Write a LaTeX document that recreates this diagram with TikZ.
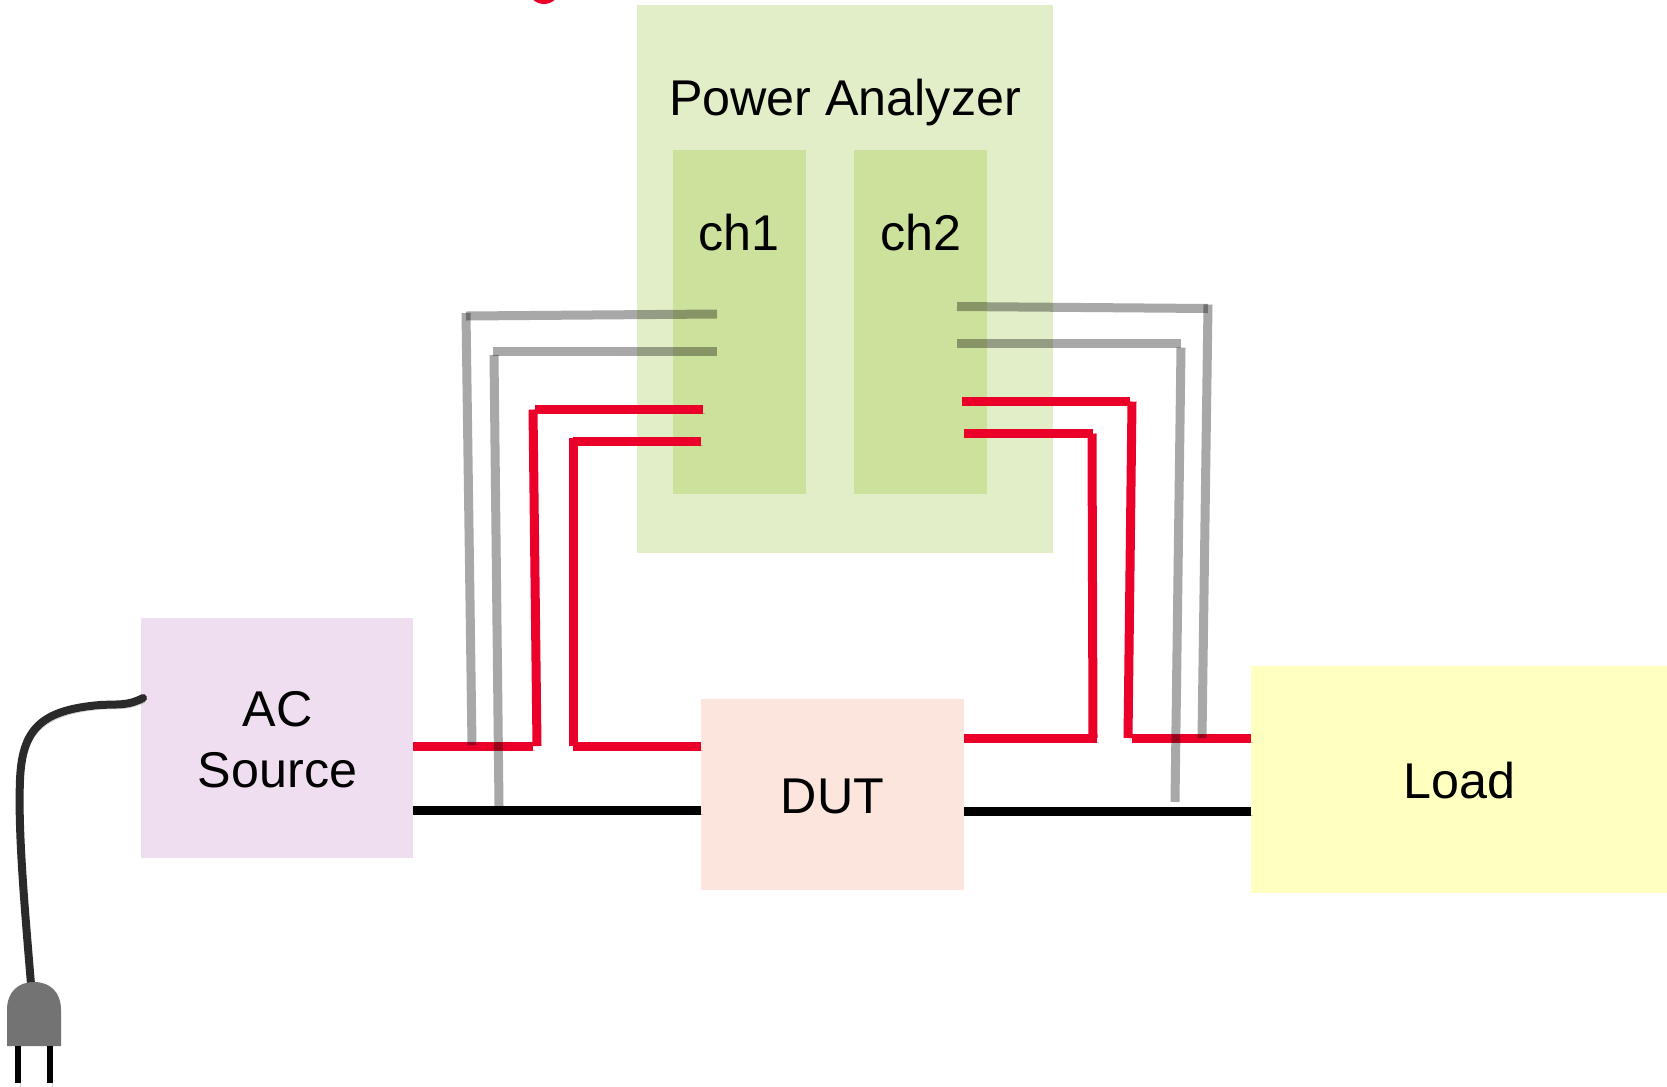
\documentclass[tikz,border=0pt]{standalone}
\usepackage{fontspec}
\setmainfont{Liberation Sans}
\usetikzlibrary{calc}

\def\pxu{0.02cm}
\definecolor{analyzerfill}{HTML}{E1EEC8}
\definecolor{chfill}{HTML}{CCE29C}
\definecolor{acfill}{HTML}{EFDDF0}
\definecolor{dutfill}{HTML}{FBE5DC}
\definecolor{loadfill}{HTML}{FFFFBF}
\definecolor{wirered}{HTML}{EA0029}
\definecolor{cablegray}{HTML}{2A2A2A}
\definecolor{pluggray}{HTML}{737373}

\tikzset{
  boxnode/.style={inner sep=0pt, outer sep=0pt},
  labelnode/.style={inner sep=0pt, align=center, font=\fontsize{28.6}{35}\selectfont},
  softshadow/.style={preaction={draw=black, opacity=.18, transform canvas={shift={(1.2pt,-2.4pt)}}}},
  wirebase/.style={line width=9*\pxu},
  redwire/.style={wirebase, softshadow, draw=wirered},
  blackwire/.style={wirebase, softshadow, draw=black},
  graywire/.style={wirebase, draw=black, draw opacity=.34}
}

\begin{document}
\begin{tikzpicture}[x=0.02cm, y=-0.02cm]
  \useasboundingbox (0,0) rectangle (1667,1086);
  \clip (0,0) rectangle (1667,1086);

  \fill[wirered] (544,-12) circle (16);

  \node[boxnode, fill=analyzerfill, minimum width=416*\pxu, minimum height=548*\pxu] (analyzer) at (845,279) {};
  \node[boxnode, fill=chfill, minimum width=133*\pxu, minimum height=344*\pxu] (ch1) at (739.5,321.5) {};
  \node[boxnode, fill=chfill, minimum width=133*\pxu, minimum height=344*\pxu] (ch2) at (920.5,321.5) {};
  \node[boxnode, fill=acfill, minimum width=272*\pxu, minimum height=240*\pxu] (ac) at (277,738) {};
  \node[boxnode, fill=dutfill, minimum width=263*\pxu, minimum height=191*\pxu] (dut) at (832.5,794.5) {};
  \node[boxnode, fill=loadfill, minimum width=416*\pxu, minimum height=227*\pxu] (load) at (1459,779) {};

  \node[labelnode] (analyzerlabel) at (845,103) {Power Analyzer};
  \node[labelnode] (ch1label) at (738.5,232.5) {ch1};
  \node[labelnode] (ch2label) at (921,232.5) {ch2};
  \node[labelnode] (aclabel) at (277.5,739.5) {AC\\Source};
  \node[labelnode] (dutlabel) at (832.5,796) {DUT};
  \node[labelnode] (loadlabel) at (1459.5,780.5) {Load};

  % corners of the leads
  \coordinate (gl1a) at (717,314);
  \coordinate (gl1b) at (466,316);
  \coordinate (gl1c) at (466,313);
  \coordinate (gl1d) at (472,745);
  \coordinate (gl2a) at (717,351);
  \coordinate (gl2b) at (493,351);
  \coordinate (gl2c) at (494,355);
  \coordinate (gl2d) at (499,806);
  \coordinate (rl1a) at (703,409.5);
  \coordinate (rl1b) at (535,409.5);
  \coordinate (rl1c) at (533,409.5);
  \coordinate (rl1d) at (537,746);
  \coordinate (rl1e) at (533,746);
  \coordinate (rl2a) at (701,441.5);
  \coordinate (rl2b) at (573,441.5);
  \coordinate (rl2c) at (573,437.5);
  \coordinate (rl2d) at (573,746);
  \coordinate (gr1a) at (957,306.5);
  \coordinate (gr1b) at (1208,308.5);
  \coordinate (gr1c) at (1208,304.5);
  \coordinate (gr1d) at (1202,738);
  \coordinate (gr2a) at (957,343.5);
  \coordinate (gr2b) at (1181,343.5);
  \coordinate (gr2c) at (1181,347.5);
  \coordinate (gr2d) at (1175,802);
  \coordinate (rr1a) at (962,401.5);
  \coordinate (rr1b) at (1130,401.5);
  \coordinate (rr1c) at (1132,401.5);
  \coordinate (rr1d) at (1128,738);
  \coordinate (rr1e) at (1132,738);
  \coordinate (rr2a) at (964,433.5);
  \coordinate (rr2b) at (1093,433.5);
  \coordinate (rr2c) at (1092,433.5);
  \coordinate (rr2d) at (1093,738);

  \draw[blackwire] (ac.east |- 0,810) -- (dut.west |- 0,810);
  \draw[blackwire] (dut.east |- 0,811) -- (load.west |- 0,811);

  \draw[redwire] (ac.east |- rl1e) -- (rl1e);
  \draw[redwire] (rl1d) -- (rl1c);
  \draw[redwire] (rl1b) -- (rl1a);
  \draw[redwire] (rl2a) -- (rl2b);
  \draw[redwire] (rl2c) -- (rl2d);
  \draw[redwire] (rl2d) -- (dut.west |- rl2d);
  \draw[redwire] (rr1a) -- (rr1b);
  \draw[redwire] (rr1c) -- (rr1d);
  \draw[redwire] (rr1e) -- (load.west |- rr1e);
  \draw[redwire] (rr2a) -- (rr2b);
  \draw[redwire] (rr2c) -- (rr2d);
  \draw[redwire] (dut.east |- rr2d) -- ($(rr2d)+(4,0)$);

  \draw[graywire] (gl1a) -- (gl1b);
  \draw[graywire] (gl1c) -- (gl1d);
  \draw[graywire] (gl2a) -- (gl2b);
  \draw[graywire] (gl2c) -- (gl2d);
  \draw[graywire] (gr1a) -- (gr1b);
  \draw[graywire] (gr1c) -- (gr1d);
  \draw[graywire] (gr2a) -- (gr2b);
  \draw[graywire] (gr2c) -- (gr2d);

  % plug and its cable
  \coordinate (plugtop) at (31,984);
  \coordinate (cableend) at (143,698);
  \draw[line width=8*\pxu, draw=cablegray, line cap=round, softshadow] (plugtop) .. controls (24,900) and (18,830) .. (20,780) .. controls (22,730) and (40,710) .. (100,705) .. controls (118,704) and (128,706) .. (cableend);
  \fill[pluggray] (7,1046) -- (7,1010) .. controls (7,992) and (18,982) .. (34,982) .. controls (50,982) and (61,992) .. (61,1010) -- (61,1046) -- cycle;
  \draw[line width=6*\pxu, softshadow] (18,1046) -- (18,1083);
  \draw[line width=6*\pxu, softshadow] (50,1046) -- (50,1083);
\end{tikzpicture}
\end{document}
